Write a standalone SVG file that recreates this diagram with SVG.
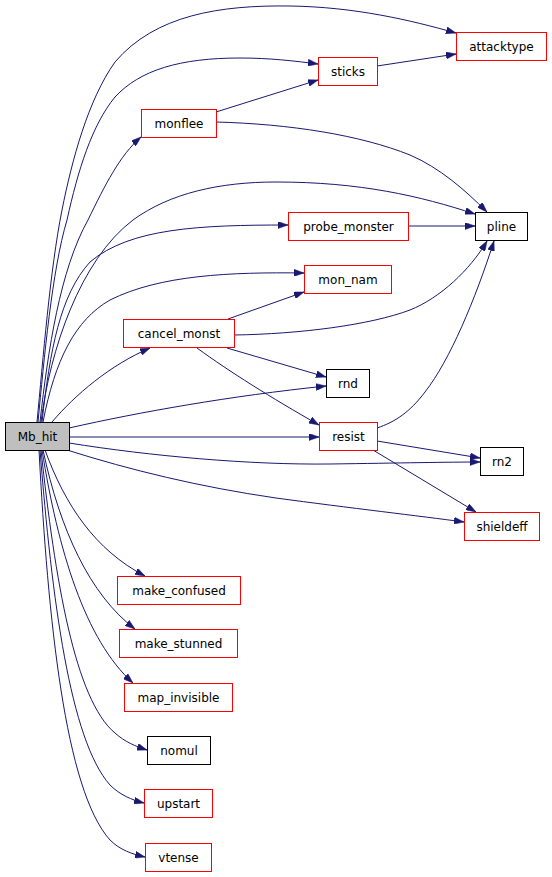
<svg xmlns="http://www.w3.org/2000/svg" width="552" height="877" viewBox="0 0 552 877">
<style>
.n rect{fill:#fff;stroke:#ff0000;stroke-width:1}
.n.k rect{stroke:#000}
.n.root rect{fill:#bfbfbf;stroke:#000}
.n text{font-family:"DejaVu Sans",sans-serif;font-size:12px;text-anchor:middle;fill:#000}
.e path{fill:none;stroke:#191970;stroke-width:1;marker-end:url(#a)}
</style>
<defs>
<marker id="a" viewBox="0 0 10 7" refX="10" refY="3.5" markerWidth="10" markerHeight="7" markerUnits="userSpaceOnUse" orient="auto">
<path d="M0,0 L10,3.5 L0,7 z" fill="#191970" stroke="#191970" stroke-width="0.5"/>
</marker>
</defs>
<rect width="552" height="877" fill="#fff"/>
<g id="edges" class="e">
<path d="M37,422 C43,360 50,270 62,210 C72,160 88,100 115,62 C155,15 220,5 290,6 C355,7 410,20 456,33"/>
<path d="M38,422 C44,360 52,270 67,220 C78,170 92,125 115,97 C140,70 180,58 240,58 C270,58 295,61 318,64"/>
<path d="M40,422 C48,350 60,270 88,220 C105,185 120,155 141,137"/>
<path d="M41,422 C50,350 80,260 133,220 C170,193 220,182 276,182 C360,182 420,196 475,214"/>
<path d="M42,422 C50,350 60,295 90,262 C130,228 200,225 288,225"/>
<path d="M43,422 C55,360 75,320 110,300 C160,275 230,272 304,273"/>
<path d="M52,422 C75,395 110,365 150,348"/>
<path d="M69,428 C140,412 230,396 326,386"/>
<path d="M69,437 L319,437"/>
<path d="M69,443 C150,456 250,465 330,464 C400,463 450,462 480,462"/>
<path d="M67,450 C130,470 200,487 276,498 C350,508 420,516 464,522"/>
<path d="M45,450 C65,505 95,550 145,576"/>
<path d="M43,450 C60,530 90,595 135,629"/>
<path d="M42,450 C58,550 85,640 133,683"/>
<path d="M41,450 C55,580 75,700 115,733 C125,742 135,746 147,750"/>
<path d="M40,450 C52,600 70,740 110,785 C120,795 132,800 144,803"/>
<path d="M39,450 C48,620 65,790 110,840 C120,850 132,854 145,857"/>
<path d="M216,112 L318,80"/>
<path d="M216,122 C290,124 360,135 410,155 C440,168 465,190 487,212"/>
<path d="M377,66 L456,54"/>
<path d="M408,226 L475,226"/>
<path d="M228,319 L304,292"/>
<path d="M234,335 C300,334 370,325 410,310 C440,298 470,270 487,241"/>
<path d="M227,348 L326,377"/>
<path d="M197,348 C230,372 270,397 319,425"/>
<path d="M377,428 C395,422 410,412 425,392 C450,360 475,300 494,241"/>
<path d="M377,441 L480,458"/>
<path d="M373,450 L476,512"/>
</g>
<g id="Mb_hit" class="n root"><rect x="5.5" y="422.5" width="64" height="28"/><text x="37.5" y="441">Mb_hit</text></g>
<g id="monflee" class="n"><rect x="141.5" y="109.5" width="75" height="28"/><text x="179" y="128">monflee</text></g>
<g id="cancel_monst" class="n"><rect x="123.5" y="319.5" width="111" height="28"/><text x="179" y="338">cancel_monst</text></g>
<g id="sticks" class="n"><rect x="318.5" y="57.5" width="59" height="28"/><text x="348" y="76">sticks</text></g>
<g id="attacktype" class="n"><rect x="456.5" y="32.5" width="90" height="28"/><text x="501.5" y="51">attacktype</text></g>
<g id="pline" class="n k"><rect x="475.5" y="212.5" width="52" height="28"/><text x="501.5" y="231">pline</text></g>
<g id="probe_monster" class="n"><rect x="288.5" y="212.5" width="120" height="28"/><text x="348.5" y="231">probe_monster</text></g>
<g id="mon_nam" class="n"><rect x="304.5" y="265.5" width="87" height="28"/><text x="348" y="284">mon_nam</text></g>
<g id="rnd" class="n k"><rect x="326.5" y="369.5" width="43" height="28"/><text x="348" y="388">rnd</text></g>
<g id="resist" class="n"><rect x="319.5" y="422.5" width="58" height="28"/><text x="348.5" y="441">resist</text></g>
<g id="rn2" class="n k"><rect x="480.5" y="447.5" width="43" height="28"/><text x="502" y="466">rn2</text></g>
<g id="shieldeff" class="n"><rect x="464.5" y="512.5" width="75" height="28"/><text x="502" y="531">shieldeff</text></g>
<g id="make_confused" class="n"><rect x="117.5" y="576.5" width="123" height="28"/><text x="179" y="595">make_confused</text></g>
<g id="make_stunned" class="n"><rect x="119.5" y="629.5" width="118" height="28"/><text x="178.5" y="648">make_stunned</text></g>
<g id="map_invisible" class="n"><rect x="124.5" y="683.5" width="108" height="28"/><text x="178.5" y="702">map_invisible</text></g>
<g id="nomul" class="n k"><rect x="147.5" y="736.5" width="63" height="28"/><text x="179" y="755">nomul</text></g>
<g id="upstart" class="n"><rect x="144.5" y="789.5" width="68" height="28"/><text x="178.5" y="808">upstart</text></g>
<g id="vtense" class="n"><rect x="145.5" y="843.5" width="66" height="28"/><text x="178.5" y="862">vtense</text></g>
</svg>
